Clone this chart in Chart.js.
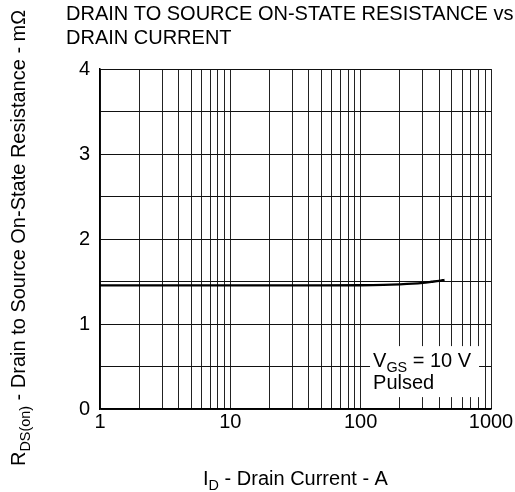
<!DOCTYPE html>
<html><head><meta charset="utf-8">
<script src="https://cdn.jsdelivr.net/npm/chart.js@4.4.0/dist/chart.umd.min.js"></script>
<style>html,body{margin:0;padding:0;background:#fff;} #wrap{width:515px;height:492px;position:relative;}</style>
</head><body><div id="wrap"><canvas id="c" width="515" height="492"></canvas></div>
<script>
// ---- data ----
const drainCurrent = [1, 10, 50, 100, 150, 200, 250, 300, 350, 400, 440];
const rdsOn = [1.455, 1.455, 1.455, 1.456, 1.46, 1.467, 1.475, 1.485, 1.497, 1.508, 1.52];
const xTickLabels = ["1", "10", "100", "1000"];
const yTickLabels = ["0", "1", "2", "3", "4"];
const xGridValues = [1,2,3,4,5,6,7,8,9,10,20,30,40,50,60,70,80,90,100,200,300,400,500,600,700,800,900,1000];
const yGridValues = [0,0.5,1,1.5,2,2.5,3,3.5,4];
const titleLines = ["DRAIN TO SOURCE ON-STATE RESISTANCE vs", "DRAIN CURRENT"];
const noteBox = [118, 810, 0.14, 0.74]; // x1, x2 (A), y1, y2 (mOhm)

const FONT = '"Liberation Sans", Arial, sans-serif';

function drawSub(ctx, parts, x, y, size, align) {
  let total = 0;
  const widths = parts.map(p => {
    ctx.font = (p[1] ? size * 0.72 : size) + 'px ' + FONT;
    const w = ctx.measureText(p[0]).width; total += w; return w;
  });
  let cx = align === 'center' ? x - total / 2 : x;
  ctx.textAlign = 'left';
  ctx.textBaseline = 'alphabetic';
  parts.forEach((p, i) => {
    ctx.font = (p[1] ? size * 0.72 : size) + 'px ' + FONT;
    ctx.fillText(p[0], cx, y + (p[1] ? size * 0.25 : 0));
    cx += widths[i];
  });
}

const decor = {
  id: 'decor',
  beforeDatasetsDraw(chart) {
    const ctx = chart.ctx, xs = chart.scales.x, ys = chart.scales.y;
    const x1 = xs.getPixelForValue(noteBox[0]), x2 = xs.getPixelForValue(noteBox[1]);
    const y1 = ys.getPixelForValue(noteBox[2]), y2 = ys.getPixelForValue(noteBox[3]);
    ctx.save();
    ctx.fillStyle = '#fff';
    ctx.fillRect(x1, y2, x2 - x1, y1 - y2);
    ctx.fillStyle = '#000';
    drawSub(ctx, [['V', false], ['GS', true], [' = 10 V', false]], x1 + 3, y2 + 21, 20, 'left');
    drawSub(ctx, [['Pulsed', false]], x1 + 3, y2 + 43, 20, 'left');
    ctx.restore();
  },
  afterDraw(chart) {
    const ctx = chart.ctx, ca = chart.chartArea;
    ctx.save();
    ctx.fillStyle = '#000';
    ctx.font = '20px ' + FONT;
    ctx.textAlign = 'left';
    ctx.textBaseline = 'alphabetic';
    ctx.fillText(titleLines[0], 66, 19.5);
    ctx.fillText(titleLines[1], 66, 44);
    drawSub(ctx, [['I', false], ['D', true], [' - Drain Current - A', false]], (ca.left + ca.right) / 2, 485, 20, 'center');
    ctx.translate(25, 466);
    ctx.rotate(-Math.PI / 2);
    drawSub(ctx, [['R', false], ['DS(on)', true], [' - Drain to Source On-State Resistance - m\u03A9', false]], 0, 0, 20, 'left');
    ctx.restore();
  }
};

new Chart(document.getElementById('c'), {
  type: 'line',
  data: {
    datasets: [{
      data: drainCurrent.map((v, i) => ({ x: v, y: rdsOn[i] })),
      borderColor: '#000', borderWidth: 2.3, pointRadius: 0,
      cubicInterpolationMode: 'monotone', fill: false
    }]
  },
  options: {
    responsive: false, animation: false, devicePixelRatio: 1,
    layout: { padding: { top: 69, right: 24, left: 0, bottom: 0 } },
    plugins: { legend: { display: false }, title: { display: false }, tooltip: { enabled: false } },
    scales: {
      x: {
        type: 'logarithmic', min: 1, max: 1000,
        afterBuildTicks: s => { s.ticks = xGridValues.map(v => ({ value: v })); },
        afterFit: s => { s.height = 83; },
        ticks: {
          autoSkip: false, maxRotation: 0, minRotation: 0, padding: 1, color: '#000',
          font: { family: FONT, size: 20 },
          callback: v => xTickLabels.includes(String(v)) ? String(v) : ''
        },
        grid: { color: '#222', lineWidth: 1, drawTicks: false },
        border: { color: '#000', width: 1.5 }
      },
      y: {
        type: 'linear', min: 0, max: 4,
        afterBuildTicks: s => { s.ticks = yGridValues.map(v => ({ value: v })); },
        afterFit: s => { s.width = 100; },
        ticks: {
          padding: 10, color: '#000', font: { family: FONT, size: 20 },
          callback: v => yTickLabels.includes(String(v)) ? String(v) : ''
        },
        grid: { color: '#111', lineWidth: 1, drawTicks: false },
        border: { color: '#000', width: 1.5 }
      }
    }
  },
  plugins: [decor]
});
</script></body></html>
